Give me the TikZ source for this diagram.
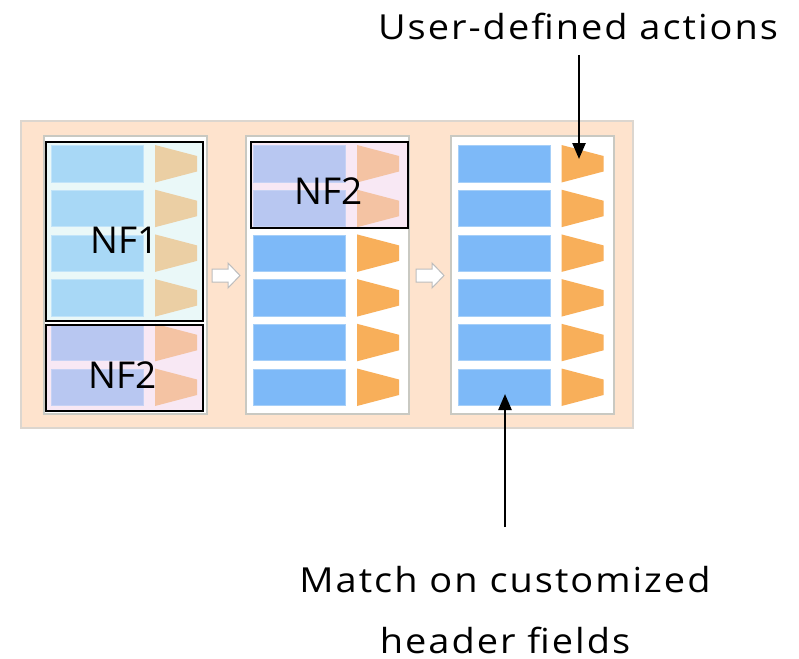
\documentclass[tikz,border=0pt]{standalone}
\usepackage{fontspec}
\setmainfont{Open Sans}
\newfontfamily\calloutfont[FakeStretch=1.1, LetterSpace=5.8]{Open Sans}
\usetikzlibrary{arrows.meta}

% palette
\definecolor{bgpeach}{HTML}{FEE3CD}
\definecolor{bgedge}{HTML}{DCD6CF}
\definecolor{paneledge}{HTML}{C9C9C2}
\definecolor{fieldblue}{HTML}{7DB9F8}
\definecolor{fieldedge}{HTML}{A6CFF8}
\definecolor{actorange}{HTML}{F8AF5A}
\definecolor{nfonebg}{HTML}{EAF8F8}
\definecolor{nfonefield}{HTML}{A8D8F6}
\definecolor{nfoneact}{HTML}{EBCFA4}
\definecolor{nftwobg}{HTML}{F8E8F4}
\definecolor{nftwofield}{HTML}{B8C7F1}
\definecolor{nftwoact}{HTML}{F4C3A3}
\definecolor{flowedge}{HTML}{BDBDBD}

\tikzset{
  calloutlbl/.style={font=\calloutfont\fontsize{34.5}{40}\selectfont, inner sep=0pt, anchor=base},
  nflabel/.style={font=\fontsize{37}{40}\selectfont, inner sep=0pt},
  panel/.style={fill=white, draw=paneledge, line width=1.2pt},
  nfframe/.style={draw=black, line width=2.6pt},
  pointer/.style={line width=2.4pt, -{Triangle[length=16pt,width=13pt]}},
  flowarrow/.style={fill=white, draw=flowedge, line width=1pt, line join=miter},
}

% \tablerow{x0}{ytop}{field colour}{field edge}{action colour}
\newcommand{\tablerow}[5]{%
  \filldraw[fill=#3, draw=#4, line width=0.8pt]
    (#1+7.5,#2+0.5) rectangle (#1+99.5,#2+37);
  \fill[#5] (#1+111,#2) -- (#1+153,#2+11) -- (#1+153,#2+26.5)
    -- (#1+111,#2+37.5) -- cycle;
}

\begin{document}
\begin{tikzpicture}[x=1pt,y=-1pt]
\useasboundingbox (0,0) rectangle (799,658);

% pipeline background
\filldraw[fill=bgpeach, draw=bgedge, line width=1.2pt] (21,121) rectangle (633,428);

% three table panels
\filldraw[panel] (44,136) rectangle (207,414);
\filldraw[panel] (246,136) rectangle (409,414);
\filldraw[panel] (451,136) rectangle (614,414);

% network-function regions
\fill[nfonebg] (46,142) rectangle (203,321);
\fill[nftwobg] (46,325) rectangle (203,411);
\fill[nftwobg] (251,142) rectangle (408,228);

% rows of panel 1
\foreach \i in {0,...,3}{\tablerow{44}{145+44.7*\i}{nfonefield}{nfonefield!70!white}{nfoneact}}
\foreach \i in {4,5}{\tablerow{44}{145+44.7*\i}{nftwofield}{nftwofield!80!white}{nftwoact}}

% rows of panel 2
\foreach \i in {0,1}{\tablerow{246}{145+44.7*\i}{nftwofield}{nftwofield!80!white}{nftwoact}}
\foreach \i in {2,...,5}{\tablerow{246}{145+44.7*\i}{fieldblue}{fieldedge}{actorange}}

% rows of panel 3
\foreach \i in {0,...,5}{\tablerow{450.5}{145+44.7*\i}{fieldblue}{fieldedge}{actorange}}

% network-function frames and names
\draw[nfframe] (46,142) rectangle (203,321);
\draw[nfframe] (46,325) rectangle (203,411);
\draw[nfframe] (251,142) rectangle (408,228);
\node[nflabel] (nfone) at (125,240) {NF1};
\node[nflabel] (nftwoa) at (123,375) {NF2};
\node[nflabel] (nftwob) at (329,191.5) {NF2};

% flow arrows between panels
\filldraw[flowarrow] (212,269) -- (228,269) -- (228,263) -- (240,275.5)
  -- (228,288) -- (228,282) -- (212,282) -- cycle;
\filldraw[flowarrow] (416,269) -- (432,269) -- (432,263) -- (444,275.5)
  -- (432,288) -- (432,282) -- (416,282) -- cycle;

% callouts
\node[calloutlbl] (actions) at (578,40) {User-defined actions};
\node[calloutlbl] (match) at (505,592.3) {Match on customized};
\node[calloutlbl] (fields) at (505,653) {header fields};
\coordinate (acttail) at (579,55);
\coordinate (acttip) at (579,159);
\coordinate (matchtail) at (505,527);
\coordinate (matchtip) at (505,394);
\draw[pointer] (acttail) -- (acttip);
\draw[pointer] (matchtail) -- (matchtip);
\end{tikzpicture}
\end{document}
